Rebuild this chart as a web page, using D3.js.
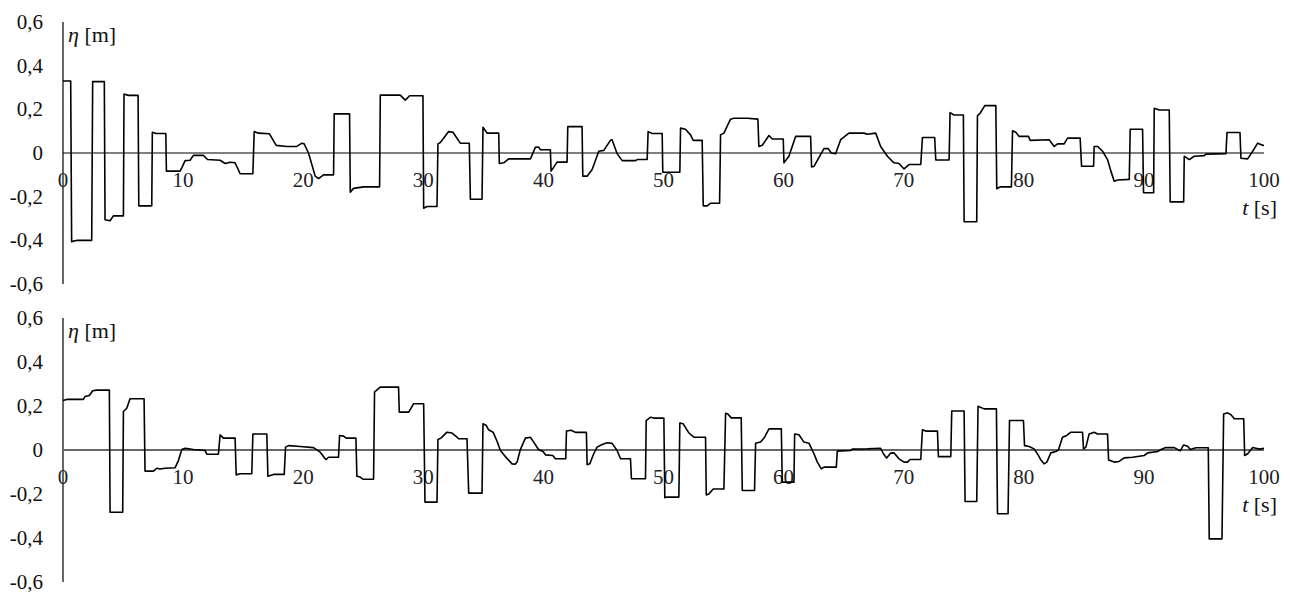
<!DOCTYPE html>
<html>
<head>
<meta charset="utf-8">
<script src="https://cdn.jsdelivr.net/npm/d3@7"></script>
</head>
<body style="margin:0">
<svg id="chart" width="1290" height="592"></svg>
<script>
// time ticks and eta ticks
var xTicks = [0, 10, 20, 30, 40, 50, 60, 70, 80, 90, 100];
var yTicks = [-0.6, -0.4, -0.2, 0, 0.2, 0.4, 0.6];

// upper record: time [s] and elevation [m]
var topT = [0, 0.64, 0.72, 1.2, 2.39, 2.47, 3.44, 3.5, 3.92, 4.19, 5.03, 5.08, 5.44, 6.25, 6.31, 7.39, 7.44, 7.75, 8.56, 8.61,
  9.75, 9.89, 10.17, 10.58, 10.86, 11.69, 12.03, 13.08, 13.5, 13.92, 14.33, 14.75, 15.81, 15.92, 16.28, 17.19, 17.75, 18.64, 19.47, 19.89,
  20.08, 20.44, 21.0, 21.28, 21.69, 22.53, 22.58, 22.94, 23.86, 23.92, 24.19, 25.03, 26.36, 26.42, 28.08, 28.5, 28.86, 29.97, 30.03, 30.31,
  31.14, 31.22, 31.42, 32.11, 32.47, 33.08, 33.83, 33.92, 34.89, 34.97, 35.31, 36.28, 36.33, 36.69, 37.11, 38.92, 39.33, 39.61, 39.75, 40.58,
  40.64, 41.14, 41.97, 42.03, 43.22, 43.28, 43.64, 44.06, 44.61, 45.03, 45.58, 45.72, 46.14, 46.56, 47.67, 47.81, 48.64, 48.72, 49.06, 49.89,
  49.94, 51.36, 51.42, 51.83, 52.25, 52.47, 53.22, 53.31, 53.64, 53.92, 54.67, 54.75, 55.03, 55.58, 55.86, 56.97, 57.86, 57.94, 58.22, 58.78,
  59.06, 59.97, 60.03, 60.44, 61.0, 61.28, 62.25, 62.33, 62.53, 63.36, 63.72, 63.97, 64.33, 64.75, 65.44, 66.69, 66.97, 67.67, 68.08, 68.64,
  69.19, 69.61, 70.03, 70.44, 71.42, 71.56, 72.58, 72.67, 73.78, 73.86, 74.19, 74.97, 75.03, 76.08, 76.14, 76.36, 76.75, 77.67, 77.75, 78.03,
  78.97, 79.06, 79.33, 79.61, 80.39, 80.53, 82.11, 82.53, 82.81, 83.36, 83.64, 84.69, 84.81, 85.81, 85.86, 86.14, 86.56, 86.97, 87.25, 87.53,
  87.81, 88.78, 88.86, 89.89, 89.97, 90.81, 90.86, 91.28, 92.11, 92.19, 93.31, 93.36, 93.78, 94.19, 95.03, 95.17, 96.83, 96.92, 98.0, 98.08,
  98.64, 99.06, 99.47, 99.89, 100];
var topEta = [0.33, 0.33, -0.406, -0.40, -0.40, 0.327, 0.327, -0.306, -0.31, -0.288, -0.288, 0.27, 0.264, 0.264, -0.242, -0.242, 0.095, 0.089, 0.089, -0.083,
  -0.083, -0.068, -0.035, -0.033, -0.011, -0.011, -0.03, -0.033, -0.048, -0.042, -0.045, -0.095, -0.095, 0.098, 0.091, 0.088, 0.035, 0.03, 0.03, 0.045,
  0.042, 0, -0.106, -0.117, -0.10, -0.10, 0.18, 0.179, 0.179, -0.18, -0.162, -0.155, -0.155, 0.265, 0.265, 0.242, 0.262, 0.262, -0.253, -0.245,
  -0.245, 0.042, 0.048, 0.098, 0.095, 0.045, 0.045, -0.212, -0.212, 0.118, 0.091, 0.091, -0.048, -0.045, -0.027, -0.027, 0.026, 0.027, 0.015, 0.015,
  -0.083, -0.042, -0.042, 0.121, 0.121, -0.106, -0.106, -0.076, 0.008, 0.012, 0.058, 0.061, -0.003, -0.035, -0.035, -0.03, -0.03, 0.098, 0.089, 0.089,
  -0.088, -0.088, 0.114, 0.109, 0.083, 0.058, 0.058, -0.242, -0.242, -0.23, -0.23, 0.083, 0.091, 0.155, 0.159, 0.159, 0.155, 0.03, 0.035, 0.08,
  0.064, 0.064, -0.045, -0.015, 0.076, 0.076, 0.076, -0.064, -0.061, 0.02, 0.02, 0, -0.003, 0.061, 0.091, 0.091, 0.086, 0.091, 0.03, -0.015,
  -0.045, -0.048, -0.073, -0.053, -0.053, 0.071, 0.071, -0.032, -0.032, 0.185, 0.174, 0.174, -0.315, -0.315, 0.17, 0.182, 0.217, 0.217, -0.164, -0.155,
  -0.155, 0.102, 0.095, 0.076, 0.076, 0.058, 0.061, 0.03, 0.042, 0.042, 0.068, 0.068, -0.061, -0.061, 0.03, 0.03, 0.008, -0.03, -0.083, -0.129,
  -0.124, -0.121, 0.109, 0.109, -0.182, -0.182, 0.205, 0.197, 0.197, -0.224, -0.224, -0.015, -0.03, -0.015, -0.012, -0.005, -0.003, 0.094, 0.094, -0.024,
  -0.027, 0.008, 0.045, 0.035, 0.035];

// lower record
var botT = [0, 0.31, 1.69, 1.83, 2.19, 2.47, 2.81, 3.86, 3.92, 4.97, 5.03, 5.31, 5.58, 6.75, 6.83, 7.53, 7.81, 8.08, 8.5, 9.33,
  9.61, 9.89, 10.17, 10.86, 11.83, 11.97, 12.94, 13.08, 13.36, 14.33, 14.42, 14.75, 15.72, 15.81, 16.97, 17.06, 17.53, 18.42, 18.53, 18.81,
  19.75, 20.86, 21.42, 21.83, 21.92, 22.11, 22.94, 23.03, 23.36, 23.58, 24.39, 24.47, 24.75, 24.97, 25.86, 25.94, 26.14, 26.42, 27.94, 28.0,
  28.78, 29.19, 30.03, 30.14, 31.14, 31.22, 31.47, 31.97, 32.39, 32.81, 32.94, 33.64, 33.78, 34.89, 34.97, 35.25, 35.44, 35.81, 36.14, 36.42,
  36.83, 37.39, 37.67, 37.81, 38.08, 38.5, 38.92, 39.19, 39.61, 39.97, 40.17, 40.78, 41.0, 41.86, 41.92, 42.31, 42.67, 43.58, 43.64, 43.86,
  44.19, 44.47, 44.89, 45.31, 45.72, 46.14, 46.42, 47.25, 47.33, 48.5, 48.56, 48.92, 49.19, 50.03, 50.11, 50.31, 51.28, 51.36, 51.64, 52.11,
  52.53, 53.5, 53.56, 53.78, 54.14, 55.03, 55.17, 55.36, 55.64, 56.47, 56.56, 57.58, 57.67, 58.08, 58.42, 58.78, 59.81, 59.89, 60.86, 60.92,
  61.28, 61.69, 62.11, 62.53, 62.81, 63.14, 63.36, 64.39, 64.47, 65.58, 65.72, 66.97, 68.08, 68.31, 68.58, 68.92, 69.19, 69.61, 70.03, 70.31,
  70.53, 71.42, 71.56, 71.83, 72.81, 72.89, 73.92, 74.0, 75.03, 75.11, 76.08, 76.19, 76.69, 77.72, 77.81, 78.69, 78.81, 79.97, 80.06, 80.44,
  80.86, 81.19, 81.42, 81.69, 81.92, 82.25, 82.67, 82.89, 83.22, 83.58, 83.92, 84.89, 84.97, 85.17, 85.44, 85.86, 86.14, 86.97, 87.06, 87.53,
  87.94, 88.36, 89.06, 90.03, 90.31, 91.14, 91.42, 91.83, 92.53, 93.03, 93.31, 93.64, 93.86, 94.33, 95.36, 95.44, 96.5, 96.64, 96.97, 97.25,
  97.53, 98.31, 98.39, 98.64, 99.06, 99.33, 99.61, 100];
var botEta = [0.225, 0.23, 0.23, 0.243, 0.248, 0.269, 0.272, 0.272, -0.283, -0.283, 0.175, 0.19, 0.233, 0.233, -0.096, -0.096, -0.083, -0.086, -0.083, -0.081,
  -0.048, 0.002, 0.008, 0.002, -0.002, -0.019, -0.019, 0.069, 0.054, 0.054, -0.113, -0.108, -0.108, 0.073, 0.073, -0.119, -0.111, -0.111, 0.013, 0.02,
  0.016, 0.011, -0.01, -0.04, -0.043, -0.033, -0.033, 0.066, 0.063, 0.054, 0.054, -0.119, -0.123, -0.133, -0.133, 0.263, 0.273, 0.286, 0.286, 0.172,
  0.172, 0.21, 0.21, -0.237, -0.237, 0.048, 0.054, 0.081, 0.077, 0.058, 0.051, 0.051, -0.196, -0.196, 0.119, 0.111, 0.092, 0.081, 0.04, -0.002,
  -0.03, -0.063, -0.064, -0.055, 0.002, 0.054, 0.058, 0.036, 0.001, -0.007, -0.022, -0.025, -0.04, -0.04, 0.086, 0.09, 0.08, 0.08, -0.067, -0.063,
  -0.017, 0.013, 0.025, 0.033, 0.03, -0.002, -0.04, -0.04, -0.131, -0.131, 0.134, 0.149, 0.145, 0.145, -0.217, -0.214, -0.214, 0.123, 0.119, 0.078,
  0.058, 0.058, -0.204, -0.2, -0.177, -0.177, 0.167, 0.164, 0.146, 0.146, -0.184, -0.184, 0.031, 0.036, 0.058, 0.096, 0.096, -0.146, -0.146, 0.073,
  0.069, 0.036, 0.031, -0.017, -0.055, -0.086, -0.078, -0.078, -0.005, -0.002, 0.004, 0.005, 0.008, -0.017, -0.036, -0.014, -0.013, -0.04, -0.055, -0.055,
  -0.043, -0.043, 0.092, 0.086, 0.086, -0.03, -0.03, 0.177, 0.177, -0.234, -0.234, 0.199, 0.187, 0.187, -0.29, -0.29, 0.134, 0.134, 0.02, 0.016,
  0.005, -0.022, -0.045, -0.063, -0.055, -0.013, -0.007, 0.001, 0.058, 0.066, 0.081, 0.081, 0.005, 0.013, 0.073, 0.081, 0.073, 0.073, -0.045, -0.055,
  -0.052, -0.036, -0.033, -0.025, -0.013, -0.007, 0.002, 0.011, 0.011, -0.004, 0.023, 0.017, 0.002, 0.01, 0.01, -0.404, -0.404, 0.164, 0.169, 0.16,
  0.142, 0.142, -0.025, -0.017, 0.011, 0.008, 0.004, 0.008];

var FONT = "Liberation Serif";
var svg = d3.select("#chart");

var x = d3.scaleLinear().domain([0, 100]).range([63, 1264]);

var fmt = function(v) {
    if (Math.abs(v) < 1e-9) return "0";
    return v.toFixed(1).replace(".", ",");
};

function label(px, py, size, anchor, fill) {
    return svg.append("text")
        .attr("x", px)
        .attr("y", py)
        .attr("text-anchor", anchor)
        .attr("font-family", FONT)
        .attr("font-size", size)
        .attr("fill", fill);
}

function drawPanel(t, eta, top, bottom, zeroColor, zeroWidth) {
    var y = d3.scaleLinear().domain([-0.6, 0.6]).range([bottom, top]);

    // axis lines
    svg.append("line")
        .attr("x1", x(0)).attr("x2", x(0))
        .attr("y1", y(0.6)).attr("y2", y(-0.6))
        .attr("stroke", "#000").attr("stroke-width", 1.2);
    svg.append("line")
        .attr("x1", x(0)).attr("x2", x(100))
        .attr("y1", y(0)).attr("y2", y(0))
        .attr("stroke", zeroColor).attr("stroke-width", zeroWidth);

    // tick labels
    yTicks.forEach(function(v) {
        label(x(0) - 20, y(v) + 7, 21, "end", "#111").text(fmt(v));
    });
    xTicks.forEach(function(v) {
        label(x(v), y(0) + 34, 21, "middle", "#222").text(v);
    });

    var line = d3.line()
        .x(function(d, i) { return x(t[i]); })
        .y(function(d) { return y(d); });

    svg.append("path")
        .datum(eta)
        .attr("fill", "none")
        .attr("stroke", "#000")
        .attr("stroke-width", 1.6)
        .attr("stroke-linejoin", "round")
        .attr("d", line);

    var yl = label(x(0) + 5, top + 20, 22, "start", "#111");
    yl.append("tspan").attr("font-style", "italic").text("\u03B7");
    yl.append("tspan").text(" [m]");

    var xl = label(1277, y(0) + 62, 22, "end", "#111");
    xl.append("tspan").attr("font-style", "italic").text("t");
    xl.append("tspan").text(" [s]");
}

drawPanel(topT, topEta, 22, 284, "#000", 1.2);
drawPanel(botT, botEta, 318, 582, "#666", 2);
</script>
</body>
</html>
